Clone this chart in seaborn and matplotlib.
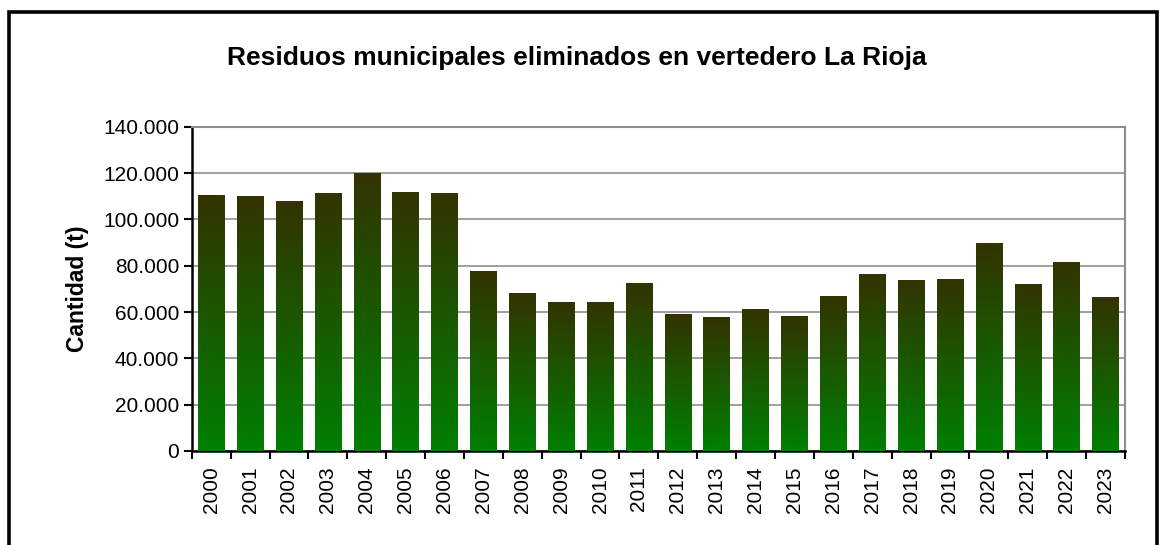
import numpy as np
import pandas as pd
import matplotlib.pyplot as plt
import matplotlib.ticker as mticker
from matplotlib.patches import Rectangle
import seaborn as sns

# data (tonnes)
years = [str(y) for y in range(2000, 2024)]
tonnes = [110100, 109700, 107900, 111000, 120000, 111800, 111000, 77300,
          68200, 64300, 64300, 72500, 59100, 57800, 60900, 58200,
          66900, 76400, 73400, 73900, 89400, 71700, 81200, 66100]

title = 'Residuos municipales eliminados en vertedero La Rioja'
ylabel = 'Cantidad (t)'
yticks = [0, 20000, 40000, 60000, 80000, 100000, 120000, 140000]

sns.set_style('white')
plt.rcParams['font.family'] = ['Liberation Sans', 'DejaVu Sans']
plt.rcParams['text.color'] = 'black'
plt.rcParams['axes.labelcolor'] = 'black'
plt.rcParams['xtick.color'] = 'black'
plt.rcParams['ytick.color'] = 'black'

df = pd.DataFrame({'year': years, 'tonnes': tonnes})

fig = plt.figure(figsize=(11.6, 5.45), dpi=100)
ax = fig.add_axes([0.1653, 0.1725, 0.8045, 0.595])

sns.barplot(data=df, x='year', y='tonnes', color='#1a6a00', width=0.68,
            saturation=1, ax=ax, zorder=3)

# vertical gradient per bar: green at the base, dark olive at the top
bottom_c = np.array([0.0, 0.50, 0.0])
top_c = np.array([0.20, 0.20, 0.0])
t = np.linspace(0, 1, 256)[:, None, None]
grad = bottom_c * (1 - t) + top_c * t
for p in ax.patches:
    x0, w, h = p.get_x(), p.get_width(), p.get_height()
    ax.imshow(grad, extent=(x0, x0 + w, 0, h), origin='lower',
              aspect='auto', zorder=3, interpolation='bilinear')
    p.set_visible(False)

ax.set_xlim(-0.5, len(years) - 0.5)
ax.set_ylim(0, 140000)
ax.set_yticks(yticks)
ax.yaxis.set_major_formatter(
    mticker.FuncFormatter(lambda v, _: f'{int(v):,}'.replace(',', '.')))

# tick marks between categories on x axis
ax.set_xticks(np.arange(len(years)))
ax.set_xticklabels(years, rotation=90, fontsize=15)
ax.set_xticks(np.arange(len(years) + 1) - 0.5, minor=True)
ax.tick_params(axis='x', which='major', length=0, pad=11)
ax.tick_params(axis='x', which='minor', direction='out', length=6, width=1.5,
               color='black', bottom=True)
ax.tick_params(axis='y', direction='out', length=6, width=1.5, color='black',
               labelsize=15, left=True, pad=3)

ax.grid(axis='y', color='#999999', linewidth=1.3, zorder=0)
ax.set_axisbelow(True)

for side in ['left', 'bottom']:
    ax.spines[side].set_color('black')
    ax.spines[side].set_linewidth(1.8)
for side in ['top', 'right']:
    ax.spines[side].set_color('#8c8c8c')
    ax.spines[side].set_linewidth(1.5)

ax.set_xlabel('')
ax.set_ylabel(ylabel, fontsize=16.5, fontweight='bold', labelpad=10)

fig.text(0.497, 0.893, title, ha='center', va='center', fontsize=19,
         fontweight='bold')

# outer chart frame (bottom edge falls off the image)
fig.patches.append(Rectangle((9 / 1160, -0.05), 1148 / 1160, 1.05 - 12 / 545,
                             transform=fig.transFigure, fill=False,
                             edgecolor='black', linewidth=2.6))

fig.savefig('out.png', dpi=100)
